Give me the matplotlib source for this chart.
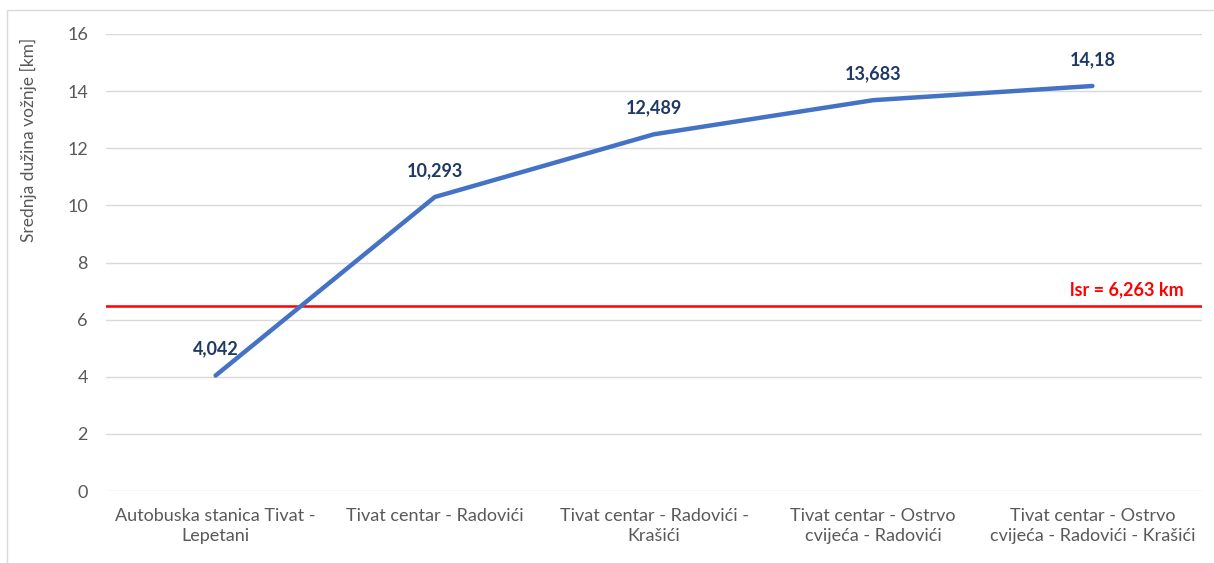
import matplotlib.pyplot as plt
from matplotlib.patches import Rectangle

plt.rcParams["font.family"] = ["Lato", "DejaVu Sans"]

categories = [
    "Autobuska stanica Tivat -\nLepetani",
    "Tivat centar - Radovići",
    "Tivat centar - Radovići -\nKrašići",
    "Tivat centar - Ostrvo\ncvijeća - Radovići",
    "Tivat centar - Ostrvo\ncvijeća - Radovići - Krašići",
]
values = [4.042, 10.293, 12.489, 13.683, 14.18]
value_labels = ["4,042", "10,293", "12,489", "13,683", "14,18"]
avg_level = 6.47          # where the red line sits in the picture
avg_label = "lsr = 6,263 km"
yticks = [0, 2, 4, 6, 8, 10, 12, 14, 16]

fig = plt.figure(figsize=(12.14, 5.63), dpi=100)
ax = fig.add_axes([106 / 1214, 1 - 491 / 563, 1096 / 1214, 457 / 563])

# chart border (cut off at right/bottom in the original)
fig.patches.append(Rectangle((7 / 1214, -0.1), 1.2, 1 - 10 / 563 + 0.1,
                             transform=fig.transFigure, fill=False,
                             edgecolor="#d9d9d9", linewidth=1))

x = range(len(categories))
ax.plot(x, values, color="#4472C4", linewidth=3.2, solid_capstyle="round", zorder=3)
for xi, v, lab in zip(x, values, value_labels):
    ax.annotate(lab, (xi, v), xytext=(0, 13), textcoords="offset points",
                ha="center", va="bottom", fontsize=13, fontweight="bold",
                color="#203864")

ax.axhline(avg_level, color="#ff0000", linewidth=1.8, zorder=2)
ax.text(4.415, avg_level + 0.28, avg_label, ha="right", va="bottom",
        fontsize=13, fontweight="bold", color="#ff0000")

ax.set_xlim(-0.5, 4.5)
ax.set_ylim(0, 16)
ax.set_yticks(yticks)
ax.set_xticks(list(x))
ax.set_xticklabels(categories, fontsize=13, color="#595959", linespacing=1.3)
ax.tick_params(axis="y", labelsize=13, labelcolor="#595959", length=0, pad=13)
ax.tick_params(axis="x", length=0, pad=12)
ax.grid(axis="y", color="#d9d9d9", linewidth=1)
ax.set_axisbelow(True)
for s in ax.spines.values():
    s.set_visible(False)
ax.set_ylabel("Srednja dužina vožnje [km]", fontsize=12.5, color="#595959")
ax.yaxis.set_label_coords(-0.063, 0.768)

fig.savefig("out.png", dpi=100)
